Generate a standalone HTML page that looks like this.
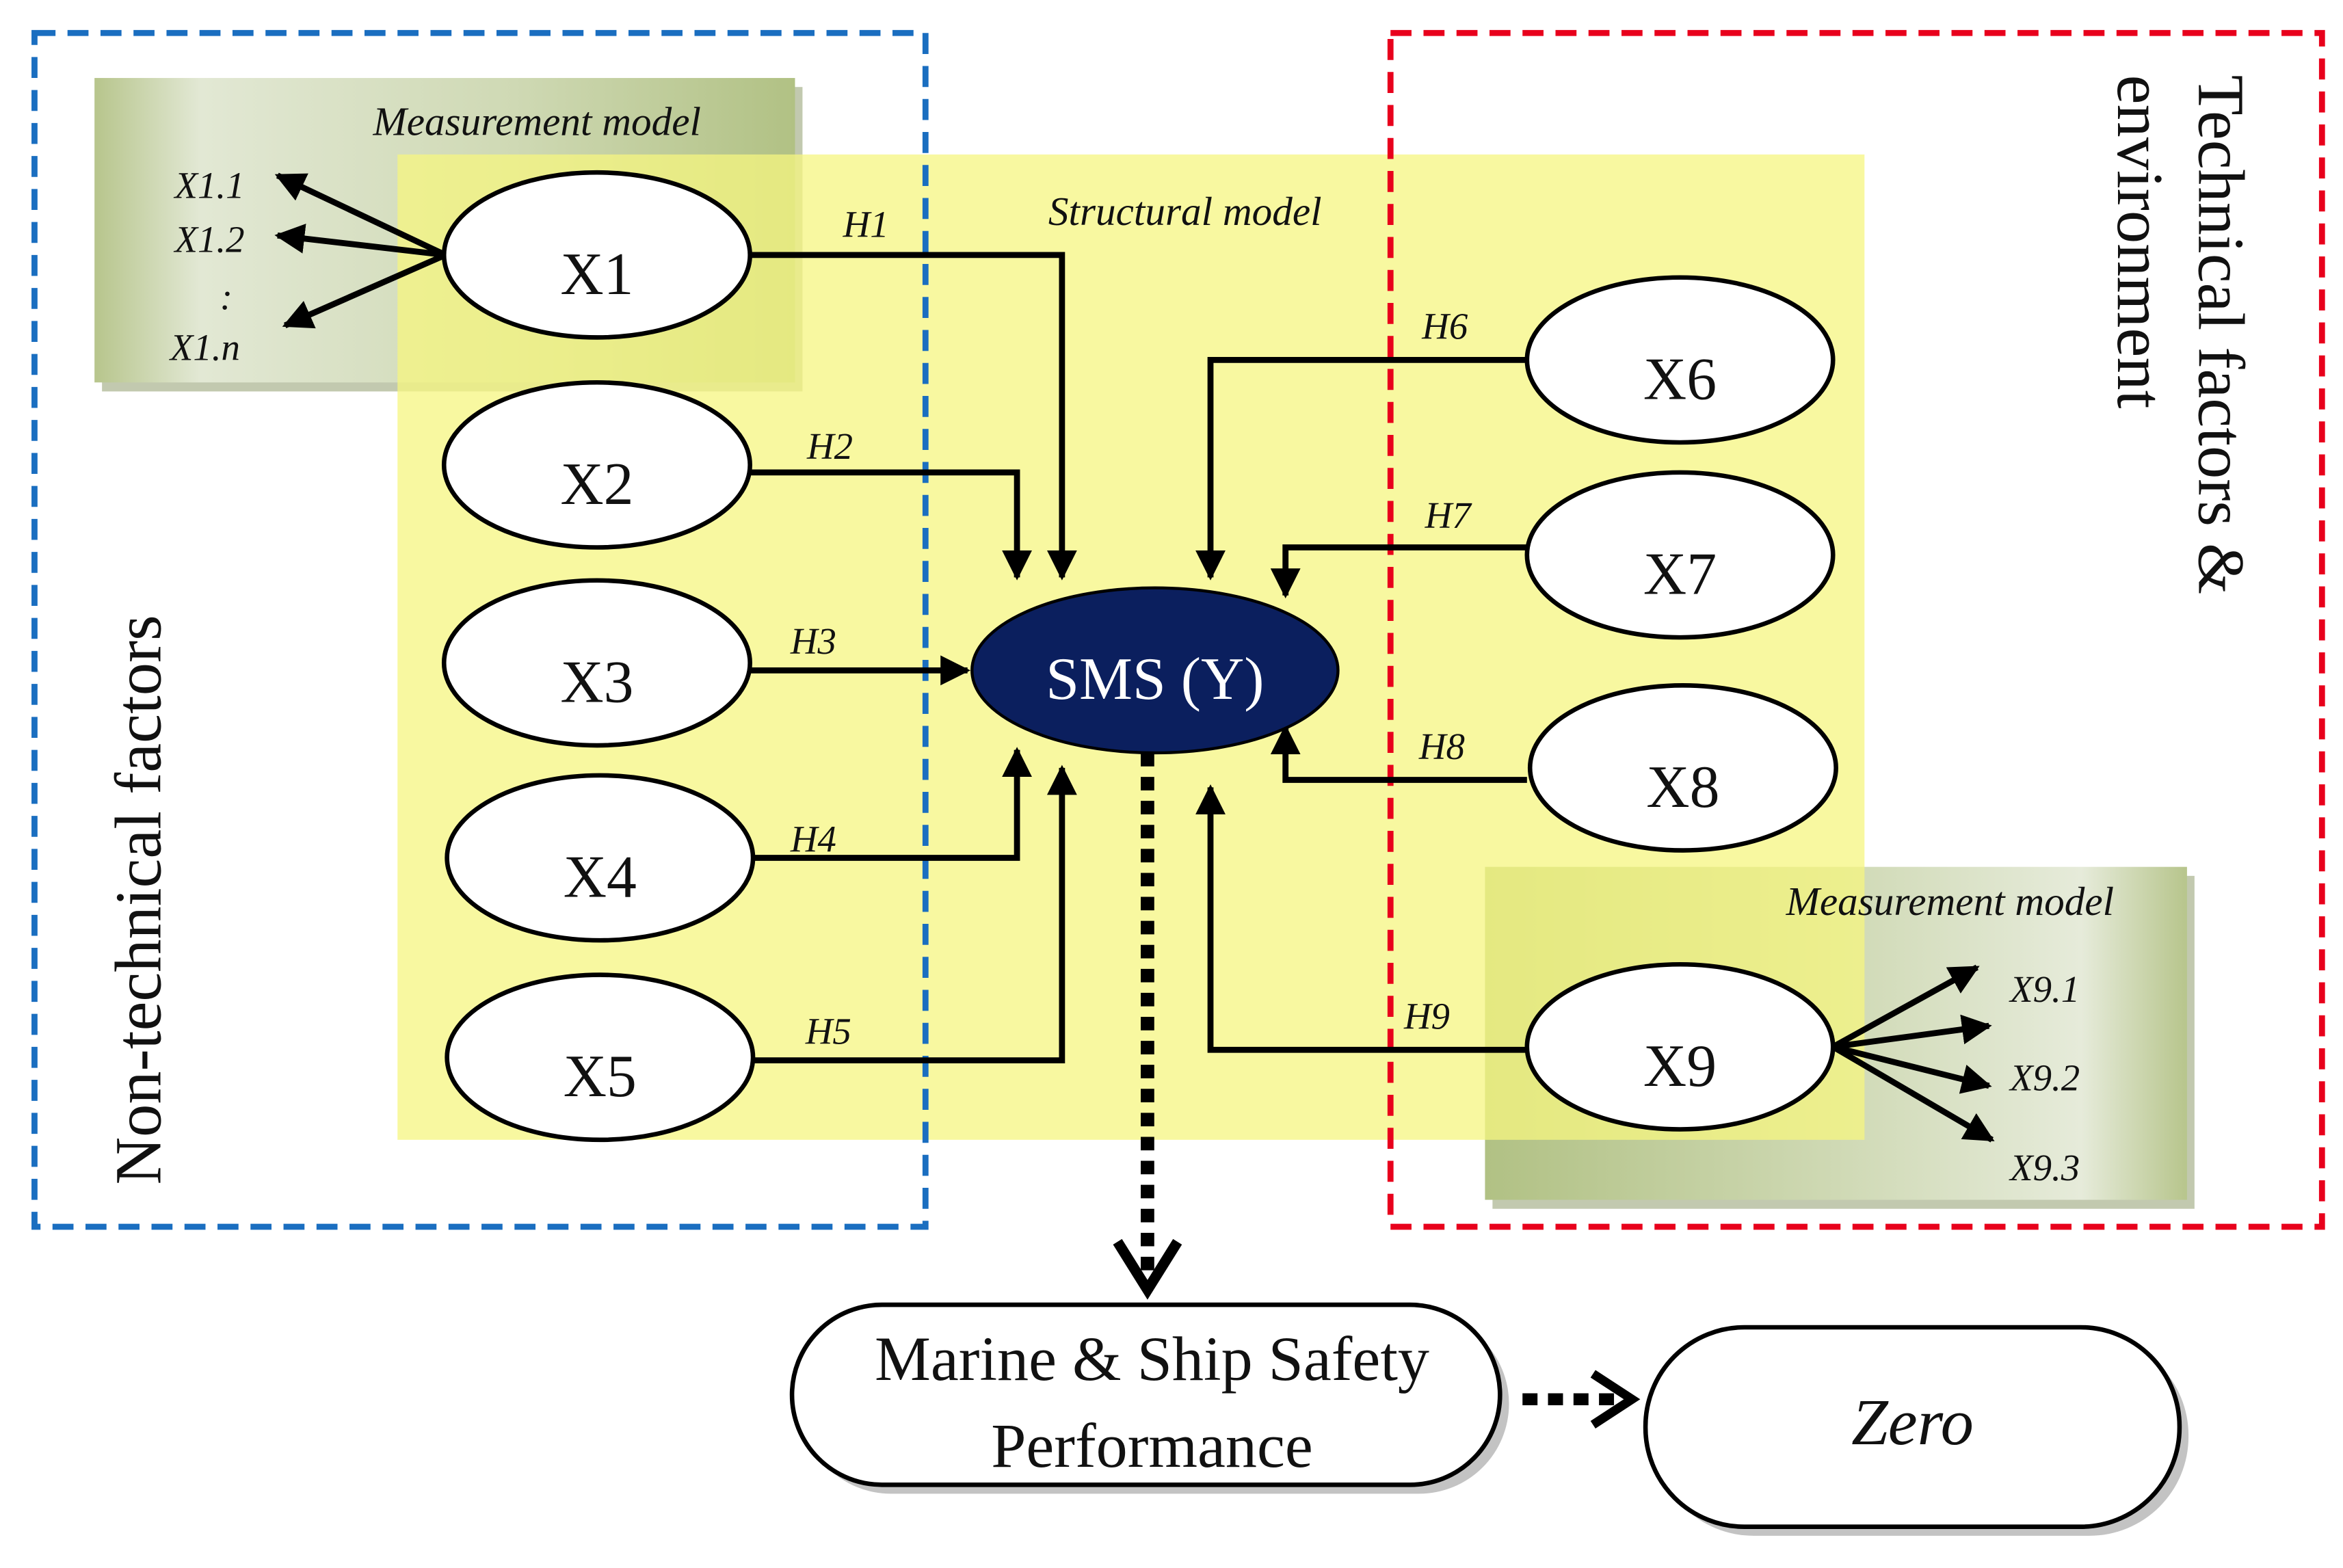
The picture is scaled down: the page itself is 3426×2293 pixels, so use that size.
<!DOCTYPE html>
<html><head><meta charset="utf-8"><style>html,body{margin:0;padding:0;background:#fff}svg{display:block}</style></head>
<body>
<svg width="3426" height="2293" viewBox="0 0 1562 1045.5" preserveAspectRatio="none" xmlns="http://www.w3.org/2000/svg" font-family="'Liberation Serif', serif">
<defs>
<linearGradient id="g1" x1="0" x2="1" y1="0" y2="0"><stop offset="0" stop-color="#b7c58c"/><stop offset="0.15" stop-color="#e2e8d4"/><stop offset="0.6" stop-color="#cfd9b4"/><stop offset="1" stop-color="#b1c184"/></linearGradient>
<linearGradient id="g2" x1="0" x2="1" y1="0" y2="0"><stop offset="0" stop-color="#b1c184"/><stop offset="0.5" stop-color="#cfd9b4"/><stop offset="0.85" stop-color="#e6ebda"/><stop offset="1" stop-color="#b7c58c"/></linearGradient>
<marker id="ah" viewBox="0 0 10 10" refX="9" refY="5" markerWidth="5" markerHeight="5" orient="auto" markerUnits="strokeWidth"><path d="M0,0 L10,5 L0,10 z" fill="#000"/></marker>
</defs>
<!-- measurement boxes -->
<rect x="68" y="58" width="467" height="203" fill="#9aa57a" opacity="0.6"/>
<rect x="63" y="52" width="467" height="203" fill="url(#g1)"/>
<rect x="995" y="584" width="468" height="222" fill="#9aa57a" opacity="0.6"/>
<rect x="990" y="578" width="468" height="222" fill="url(#g2)"/>
<!-- structural yellow -->
<rect x="265" y="103" width="978" height="657" fill="#f6f680" opacity="0.75"/>
<!-- dashed frames -->
<rect x="23" y="22" width="594" height="796" fill="none" stroke="#1a6ec0" stroke-width="4" stroke-dasharray="14,8"/>
<rect x="927" y="22" width="621" height="796" fill="none" stroke="#e8001c" stroke-width="4" stroke-dasharray="14,8"/>
<g font-style="italic" font-size="27" fill="#111">
<text x="358" y="90" text-anchor="middle">Measurement model</text>
<text x="1300" y="610" text-anchor="middle">Measurement model</text>
<text x="790" y="150" text-anchor="middle">Structural model</text>
</g>
<!-- connectors -->
<g stroke="#000" stroke-width="4" fill="none" marker-end="url(#ah)">
<polyline points="500,170 708,170 708,385"/>
<polyline points="500,315 678,315 678,385"/>
<polyline points="500,447 645,447"/>
<polyline points="500,572 678,572 678,500"/>
<polyline points="500,707 708,707 708,512"/>
<polyline points="1018,240 807,240 807,385"/>
<polyline points="1018,365 857,365 857,397"/>
<polyline points="1018,520 857,520 857,485"/>
<polyline points="1018,700 807,700 807,525"/>
<line x1="297" y1="170" x2="185" y2="117"/>
<line x1="297" y1="170" x2="185" y2="157"/>
<line x1="297" y1="170" x2="190" y2="217"/>
<line x1="1222" y1="698" x2="1318" y2="645"/>
<line x1="1222" y1="698" x2="1326" y2="684"/>
<line x1="1222" y1="698" x2="1326" y2="724"/>
<line x1="1222" y1="698" x2="1328" y2="760"/>
</g>
<g font-style="italic" font-size="25" fill="#111">
<text x="562" y="158">H1</text><text x="538" y="306">H2</text><text x="527" y="436">H3</text>
<text x="527" y="568">H4</text><text x="537" y="696">H5</text><text x="948" y="226">H6</text>
<text x="950" y="352">H7</text><text x="946" y="506">H8</text><text x="936" y="686">H9</text>
<text x="163" y="132" text-anchor="end">X1.1</text><text x="163" y="168" text-anchor="end">X1.2</text>
<text x="155" y="206" text-anchor="end">:</text><text x="160" y="240" text-anchor="end">X1.n</text>
<text x="1340" y="668">X9.1</text><text x="1340" y="727">X9.2</text><text x="1340" y="787">X9.3</text>
</g>
<!-- ellipses -->
<g fill="#fff" stroke="#000" stroke-width="3">
<ellipse cx="398" cy="170" rx="102" ry="55"/><ellipse cx="398" cy="310" rx="102" ry="55"/>
<ellipse cx="398" cy="442" rx="102" ry="55"/><ellipse cx="400" cy="572" rx="102" ry="55"/>
<ellipse cx="400" cy="705" rx="102" ry="55"/>
<ellipse cx="1120" cy="240" rx="102" ry="55"/><ellipse cx="1120" cy="370" rx="102" ry="55"/>
<ellipse cx="1122" cy="512" rx="102" ry="55"/><ellipse cx="1120" cy="698" rx="102" ry="55"/>
</g>
<g font-size="40" fill="#111" text-anchor="middle">
<text x="398" y="196">X1</text><text x="398" y="336">X2</text><text x="398" y="468">X3</text>
<text x="400" y="598">X4</text><text x="400" y="731">X5</text>
<text x="1120" y="266">X6</text><text x="1120" y="396">X7</text><text x="1122" y="538">X8</text><text x="1120" y="724">X9</text>
</g>
<ellipse cx="770" cy="447" rx="122" ry="55" fill="#0b1f5e" stroke="#000" stroke-width="2"/>
<text x="770" y="466" font-size="40" fill="#fff" text-anchor="middle">SMS (Y)</text>
<!-- dotted to performance -->
<line x1="765" y1="502" x2="765" y2="848" stroke="#000" stroke-width="9" stroke-dasharray="9,7"/>
<polyline points="745,828 765,860 785,828" fill="none" stroke="#000" stroke-width="7"/>
<rect x="534" y="876" width="472" height="120" rx="60" fill="#888" opacity="0.5"/>
<rect x="528" y="870" width="472" height="120" rx="60" fill="#fff" stroke="#000" stroke-width="3"/>
<text x="768" y="920" font-size="42" text-anchor="middle" fill="#111">Marine &amp; Ship Safety</text>
<text x="768" y="978" font-size="42" text-anchor="middle" fill="#111">Performance</text>
<line x1="1015" y1="933" x2="1080" y2="933" stroke="#000" stroke-width="8" stroke-dasharray="10,7"/>
<polyline points="1062,916 1088,933 1062,950" fill="none" stroke="#000" stroke-width="6"/>
<rect x="1103" y="891" width="356" height="133" rx="66" fill="#888" opacity="0.5"/>
<rect x="1097" y="885" width="356" height="133" rx="66" fill="#fff" stroke="#000" stroke-width="3"/>
<text x="1275" y="963" font-size="44" font-style="italic" text-anchor="middle" fill="#111">Zero</text>
<!-- side labels -->
<text transform="translate(107,600) rotate(-90)" font-size="44" text-anchor="middle" fill="#111">Non-technical factors</text>
<text transform="translate(1466,50) rotate(90)" font-size="44" fill="#111">Technical factors &amp;</text>
<text transform="translate(1412,50) rotate(90)" font-size="44" fill="#111">environment</text>
</svg>
</body></html>
